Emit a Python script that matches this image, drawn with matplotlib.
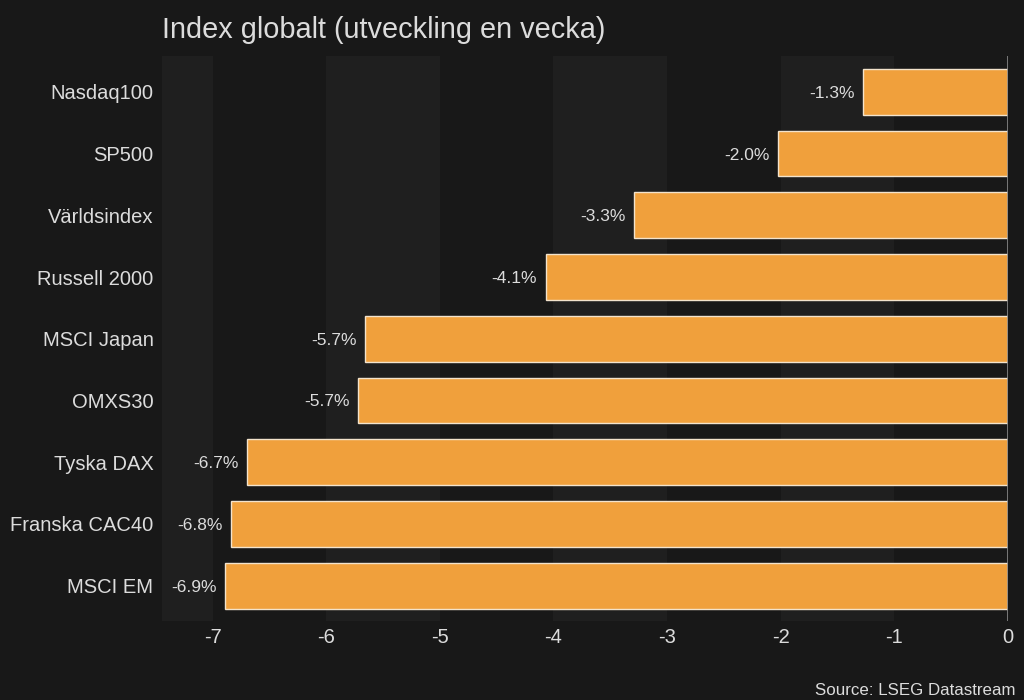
import matplotlib
matplotlib.use("Agg")
import matplotlib.pyplot as plt

categories = ["Nasdaq100", "SP500", "Världsindex", "Russell 2000", "MSCI Japan",
              "OMXS30", "Tyska DAX", "Franska CAC40", "MSCI EM"]
values = [-1.27, -2.02, -3.29, -4.07, -5.66, -5.72, -6.70, -6.84, -6.89]
xticks = [-7, -6, -5, -4, -3, -2, -1, 0]

BG = "#181818"
BAND = "#1f1f1f"
TXT = "#dcdcdc"
BAR = "#f0a03c"

plt.rcParams["font.family"] = ["Liberation Sans", "DejaVu Sans"]

fig = plt.figure(figsize=(10.24, 7.0), dpi=100, facecolor=BG)
ax = fig.add_axes([0.158, 0.113, 0.826, 0.807], facecolor=BG)

xmin = -7.45
ax.set_xlim(xmin, 0)
ax.set_ylim(len(categories) - 0.43, -0.58)

# alternating bands
edges = [xmin] + xticks
for i in range(len(edges) - 1):
    if i % 2 == 0:
        ax.axvspan(edges[i], edges[i + 1], color=BAND, zorder=0, lw=0)

y = list(range(len(categories)))
ax.barh(y, values, height=0.74, color=BAR, edgecolor="#f3e3cc", linewidth=1.0, zorder=2)
ax.axvline(0, color="#8a8a8a", lw=1.2, zorder=3)

for yi, v in zip(y, values):
    ax.annotate(f"{v:.1f}%", xy=(v, yi), xytext=(-6, 0), textcoords="offset points",
                ha="right", va="center_baseline", color=TXT, fontsize=12.5)

ax.set_yticks(y)
ax.set_yticklabels(categories, fontsize=14.5, color=TXT)
ax.set_xticks(xticks)
ax.set_xticklabels([str(t) for t in xticks], fontsize=14.5, color=TXT)
ax.tick_params(axis="y", length=0, pad=6)
ax.tick_params(axis="x", length=0, pad=5)
for s in ax.spines.values():
    s.set_visible(False)

fig.text(0.158, 0.957, "Index globalt (utveckling en vecka)", fontsize=20.8, color=TXT,
         ha="left", va="center")
fig.text(0.992, 0.003, "Source: LSEG Datastream", fontsize=12.2, color=TXT,
         ha="right", va="bottom")

fig.savefig("out.png", dpi=100, facecolor=BG)
